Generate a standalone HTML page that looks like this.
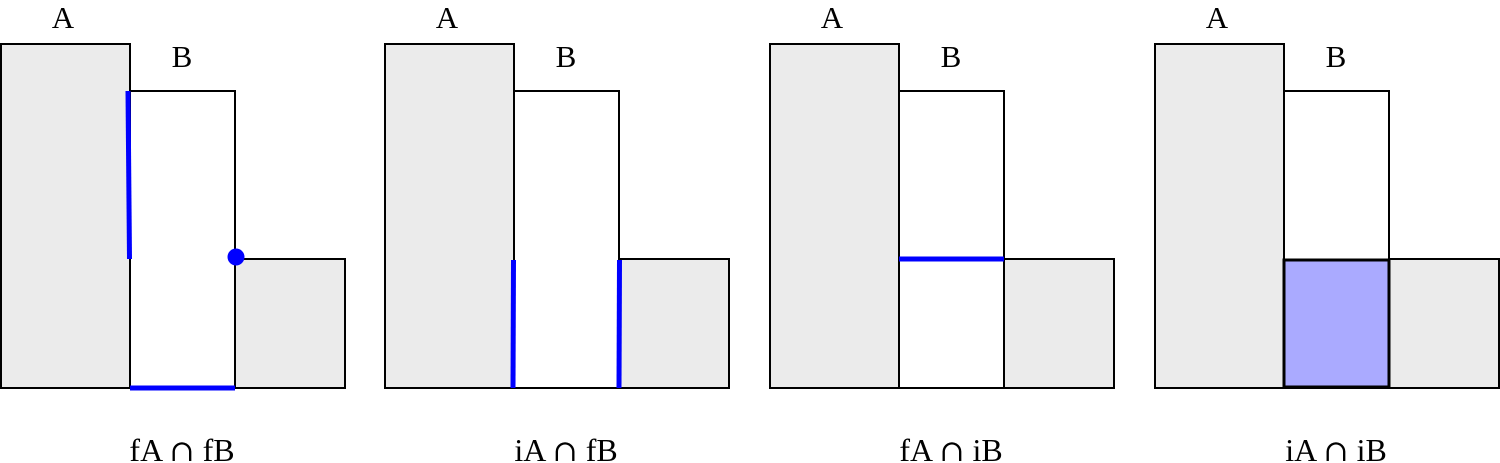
<!DOCTYPE html>
<html><head><meta charset="utf-8"><style>
html,body{margin:0;padding:0;background:#fff;width:1500px;height:463px;overflow:hidden}
text{font-family:"Liberation Serif",serif;font-size:31px;fill:#000}
.cap{font-size:32px}
.cap tspan.op{font-family:"DejaVu Serif",serif;font-size:30px}
</style></head><body>
<svg id="fig" width="1500" height="463" viewBox="0 0 1500 463" xmlns="http://www.w3.org/2000/svg"></svg>
<script>
const panelOffsets = [0, 384, 769, 1154];
const captionLeft = ["fA", "iA", "fA", "iA"];
const captionRight = ["fB", "fB", "iB", "iB"];
const panelKinds = ["ff", "if", "fi", "ii"];
const NS = "http://www.w3.org/2000/svg";
const svg = document.getElementById("fig");
function mk(tag, attrs, parent) {
  const e = document.createElementNS(NS, tag);
  for (const k in attrs) e.setAttribute(k, attrs[k]);
  (parent || svg).appendChild(e);
  return e;
}
panelOffsets.forEach((ox, i) => {
  const g = mk("g", {transform: "translate(" + ox + ",0)"});
  
  
  const a = mk("rect", {x: 1, y: 44, width: 129, height: 344, fill: "#ebebeb", stroke: "#000", "stroke-width": 2}, g);
  
  
  const b = mk("rect", {x: 130, y: 91, width: 105, height: 297, fill: "#fff", stroke: "#000", "stroke-width": 2}, g);
  
  
  const c = mk("rect", {x: 235, y: 259, width: 110, height: 129, fill: "#ebebeb", stroke: "#000", "stroke-width": 2}, g);
  
  
  const ta = mk("text", {x: 63, y: 28, "text-anchor": "middle"}, g);
  ta.textContent = "A";
  
  
  const tb = mk("text", {x: 182, y: 67, "text-anchor": "middle"}, g);
  tb.textContent = "B";
  
  
  const tl = mk("text", {x: 182, y: 461, "text-anchor": "middle", "class": "cap"}, g);
  
  
  const s1 = mk("tspan", {}, tl); s1.textContent = captionLeft[i] + " ";
  const s2 = mk("tspan", {"class": "op"}, tl); s2.textContent = "\u2229";
  const s3 = mk("tspan", {}, tl); s3.textContent = " " + captionRight[i];
  const k = panelKinds[i];
  const bl = {stroke: "#0000ff", "stroke-width": 5, fill: "none"};
  if (k === "ff") {
    const l1 = mk("line", Object.assign({x1: 128, y1: 91, x2: 129.5, y2: 259}, bl), g);
    
    
    const l2 = mk("line", Object.assign({x1: 130, y1: 388, x2: 235, y2: 388}, bl), g);
    
    
    const d = mk("circle", {cx: 236, cy: 257, r: 8.5, fill: "#0000ff"}, g);
    
    
  } else if (k === "if") {
    const l1 = mk("line", Object.assign({x1: 129.5, y1: 260, x2: 129, y2: 388}, bl), g);
    
    
    const l2 = mk("line", Object.assign({x1: 235.5, y1: 260, x2: 235, y2: 388}, bl), g);
    
    
  } else if (k === "fi") {
    const l1 = mk("line", Object.assign({x1: 130, y1: 259, x2: 235, y2: 259}, bl), g);
    
    
  } else {
    const r = mk("rect", {x: 130, y: 260, width: 105, height: 127, fill: "#aaaaff", stroke: "#000", "stroke-width": 3}, g);
    
    
  }
});
</script>
</body></html>
